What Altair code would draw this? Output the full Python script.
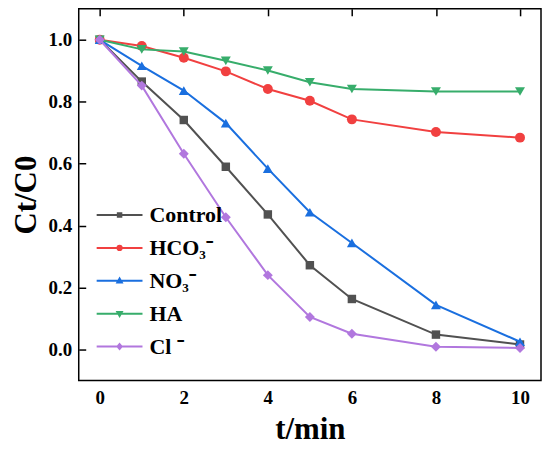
import altair as alt
import pandas as pd

t_min = [0, 1, 2, 3, 4, 5, 6, 8, 10]
control = [1.0, 0.865, 0.741, 0.590, 0.436, 0.272, 0.163, 0.048, 0.016]
hco3 = [1.0, 0.980, 0.942, 0.898, 0.841, 0.803, 0.743, 0.702, 0.684]
no3 = [1.0, 0.916, 0.836, 0.731, 0.584, 0.443, 0.344, 0.144, 0.025]
ha = [1.0, 0.969, 0.962, 0.932, 0.901, 0.863, 0.841, 0.833, 0.833]
cl = [1.0, 0.852, 0.632, 0.427, 0.240, 0.105, 0.051, 0.009, 0.005]

series_names = ["Control", "HCO\u2083\u207b", "NO\u2083\u207b", "HA", "Cl \u207b"]
series_values = [control, hco3, no3, ha, cl]
colors = ["#515151", "#F14040", "#1A6FDF", "#37AD6B", "#B177DE"]
marker_shapes = ["square", "circle", "triangle-up", "triangle-down", "diamond"]
marker_sizes = [72, 100, 100, 100, 100]
legend_paths = [
    "M-4.6,0H4.6M-0.35,-0.35H0.35V0.35H-0.35Z",
    "M-4.6,0H4.6M-0.42,0A0.42,0.42,0,1,0,0.42,0A0.42,0.42,0,1,0,-0.42,0Z",
    "M-4.6,0H4.6M0,-0.45L0.45,0.35L-0.45,0.35Z",
    "M-4.6,0H4.6M0,0.45L0.45,-0.35L-0.45,-0.35Z",
    "M-4.6,0H4.6M0,-0.5L0.42,0L0,0.5L-0.42,0Z",
]
x_ticks = [0, 2, 4, 6, 8, 10]
y_ticks = [0.0, 0.2, 0.4, 0.6, 0.8, 1.0]

rows = []
for name, vals in zip(series_names, series_values):
    for t, v in zip(t_min, vals):
        rows.append({"t": t, "c": v, "series": name})
df = pd.DataFrame(rows)

FONT = "Liberation Serif"

x = alt.X(
    "t:Q",
    scale=alt.Scale(domain=[-0.5, 10.5], nice=False, zero=False),
    axis=alt.Axis(values=x_ticks, title="t/min", labelPadding=8, titlePadding=7),
)
y = alt.Y(
    "c:Q",
    scale=alt.Scale(domain=[-0.1, 1.1], nice=False, zero=False),
    axis=alt.Axis(values=y_ticks, format=".1f", title="Ct/C0", labelPadding=7, titlePadding=6),
)

leg = alt.Legend(
    orient="none",
    legendX=30,
    legendY=196,
    title=None,
    labelFont=FONT,
    labelFontSize=22,
    labelFontWeight="bold",
    labelColor="black",
    labelOffset=19,
    symbolSize=100,
    symbolStrokeWidth=2,
    symbolOpacity=1,
    rowPadding=11,
    padding=0,
    labelLimit=0,
)

color = alt.Color("series:N", scale=alt.Scale(domain=series_names, range=colors), legend=leg)
stroke = alt.Stroke("series:N", scale=alt.Scale(domain=series_names, range=colors), legend=leg)
shape = alt.Shape("series:N", scale=alt.Scale(domain=series_names, range=legend_paths), legend=leg)

base = alt.Chart(df)

legend_layer = base.transform_filter("false").mark_point(filled=True, opacity=1).encode(
    x=x, y=y, color=color, stroke=stroke, shape=shape
)

layers = [legend_layer]
for name, shp, sz in zip(series_names, marker_shapes, marker_sizes):
    sub = base.transform_filter(alt.datum.series == name)
    layers.append(sub.mark_line(strokeWidth=2).encode(x=x, y=y, color=color))
    layers.append(
        sub.mark_point(shape=shp, filled=True, size=sz, opacity=1).encode(x=x, y=y, color=color)
    )

chart = (
    alt.layer(*layers)
    .properties(
        width=464,
        height=373,
        autosize=alt.AutoSizeParams(type="none"),
        padding={"left": 71, "top": 0, "right": 1, "bottom": 65},
    )
    .configure_view(stroke="black", strokeWidth=1.5)
    .configure_axis(
        domain=False,
        ticks=False,
        tickSize=0,
        grid=True,
        gridColor="black",
        gridWidth=1.5,
        gridOpacity=1,
        gridDash=[7, 2000],
        labelFont=FONT,
        labelFontSize=19,
        labelFontWeight="bold",
        labelColor="black",
        titleFont=FONT,
        titleFontSize=31,
        titleFontWeight="bold",
        titleColor="black",
    )
)

chart.save("out.html", embed_options={"renderer": "svg", "actions": False})
